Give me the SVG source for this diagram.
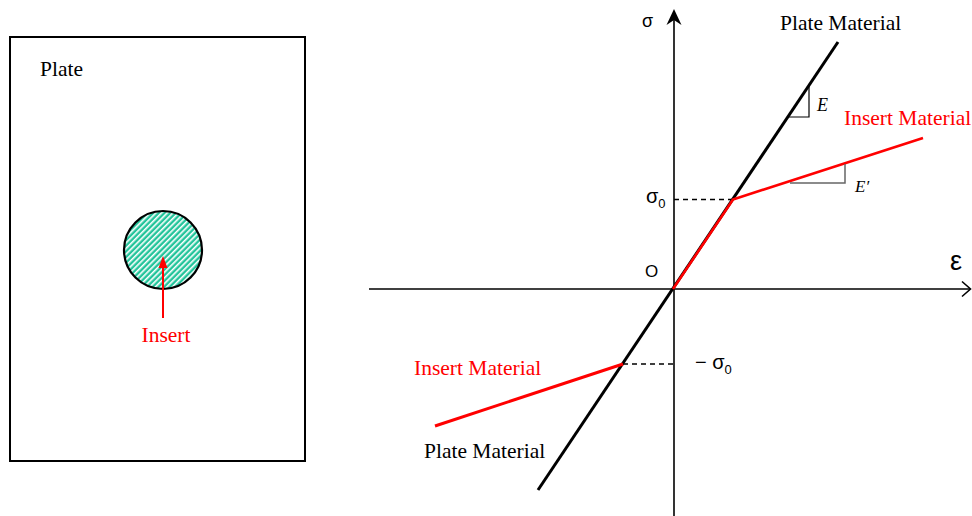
<svg xmlns="http://www.w3.org/2000/svg" width="972" height="516" viewBox="0 0 972 516">
<style>
.serif{font-family:"Liberation Serif","Times New Roman",serif;font-size:21.5px}
.sans{font-family:"Liberation Sans",Arial,sans-serif}
.red{fill:#ff0000}
.blk{fill:#000}
.axis{stroke:#000;stroke-width:1.6;fill:none}
.dash{stroke:#000;stroke-width:1.5;stroke-dasharray:5,4}
</style>
<defs>
<pattern id="hatch" patternUnits="userSpaceOnUse" width="4" height="4" patternTransform="rotate(45)">
<rect width="4" height="4" fill="#22c49a"/>
<rect x="0" y="0" width="1.6" height="4" fill="#ffffff"/>
</pattern>
</defs>
<rect width="972" height="516" fill="#fff"/>

<g id="plate">
<rect x="10" y="37" width="295" height="424" fill="none" stroke="#000" stroke-width="2"/>
<text x="40" y="76" class="serif blk">Plate</text>
</g>
<g id="insert">
<circle cx="163" cy="250" r="39" fill="url(#hatch)" stroke="#000" stroke-width="2.2"/>
<text x="166" y="342" class="serif red" text-anchor="middle">Insert</text>
</g>

<g id="connectors">
<line x1="163" y1="318" x2="163" y2="266" stroke="#ff0000" stroke-width="2"/>
<polygon points="163,256 158.5,268 167.5,268" fill="#ff0000"/>
<line x1="369" y1="289" x2="970" y2="289" class="axis"/>
<polyline points="962,281.5 970.5,289 962,296.5" class="axis"/>
<line x1="674" y1="516" x2="674" y2="14" class="axis"/>
<polygon points="674,9 666.5,25 674,20 681.5,25" fill="#000"/>
<line x1="674" y1="199.5" x2="733" y2="199.5" class="dash"/>
<line x1="623" y1="364" x2="674" y2="364" class="dash"/>
<line x1="538" y1="490" x2="838" y2="42" stroke="#000" stroke-width="3"/>
<polyline points="673,289 733,199.5 923,138" fill="none" stroke="#ff0000" stroke-width="2.6" stroke-linejoin="round"/>
<line x1="623" y1="364" x2="435" y2="426" stroke="#ff0000" stroke-width="3"/>
<polyline points="809,85 809,117 788,117" fill="none" stroke="#000" stroke-width="1.2"/>
<polyline points="845,164 845,183 790,183" fill="none" stroke="#666" stroke-width="1.5"/>
</g>

<g id="labels">
<text x="780" y="30" class="serif blk">Plate Material</text>
<text x="844" y="125" class="serif red">Insert Material</text>
<text x="414" y="375" class="serif red">Insert Material</text>
<text x="424" y="458" class="serif blk">Plate Material</text>
<text x="817" y="111" font-family="Liberation Serif,serif" font-style="italic" font-size="18">E</text>
<text x="855" y="192" font-family="Liberation Serif,serif" font-style="italic" font-size="17">E′</text>
<text x="642" y="27" class="sans" font-size="18">σ</text>
<text x="646" y="203" class="sans" font-size="20">σ<tspan font-size="13" dy="5">0</tspan></text>
<text x="645" y="277" class="sans" font-size="17">O</text>
<text x="695" y="369" class="sans" font-size="20">− σ<tspan font-size="13" dy="5">0</tspan></text>
<text x="950" y="270" class="sans" font-size="27">ε</text>
</g>
</svg>
